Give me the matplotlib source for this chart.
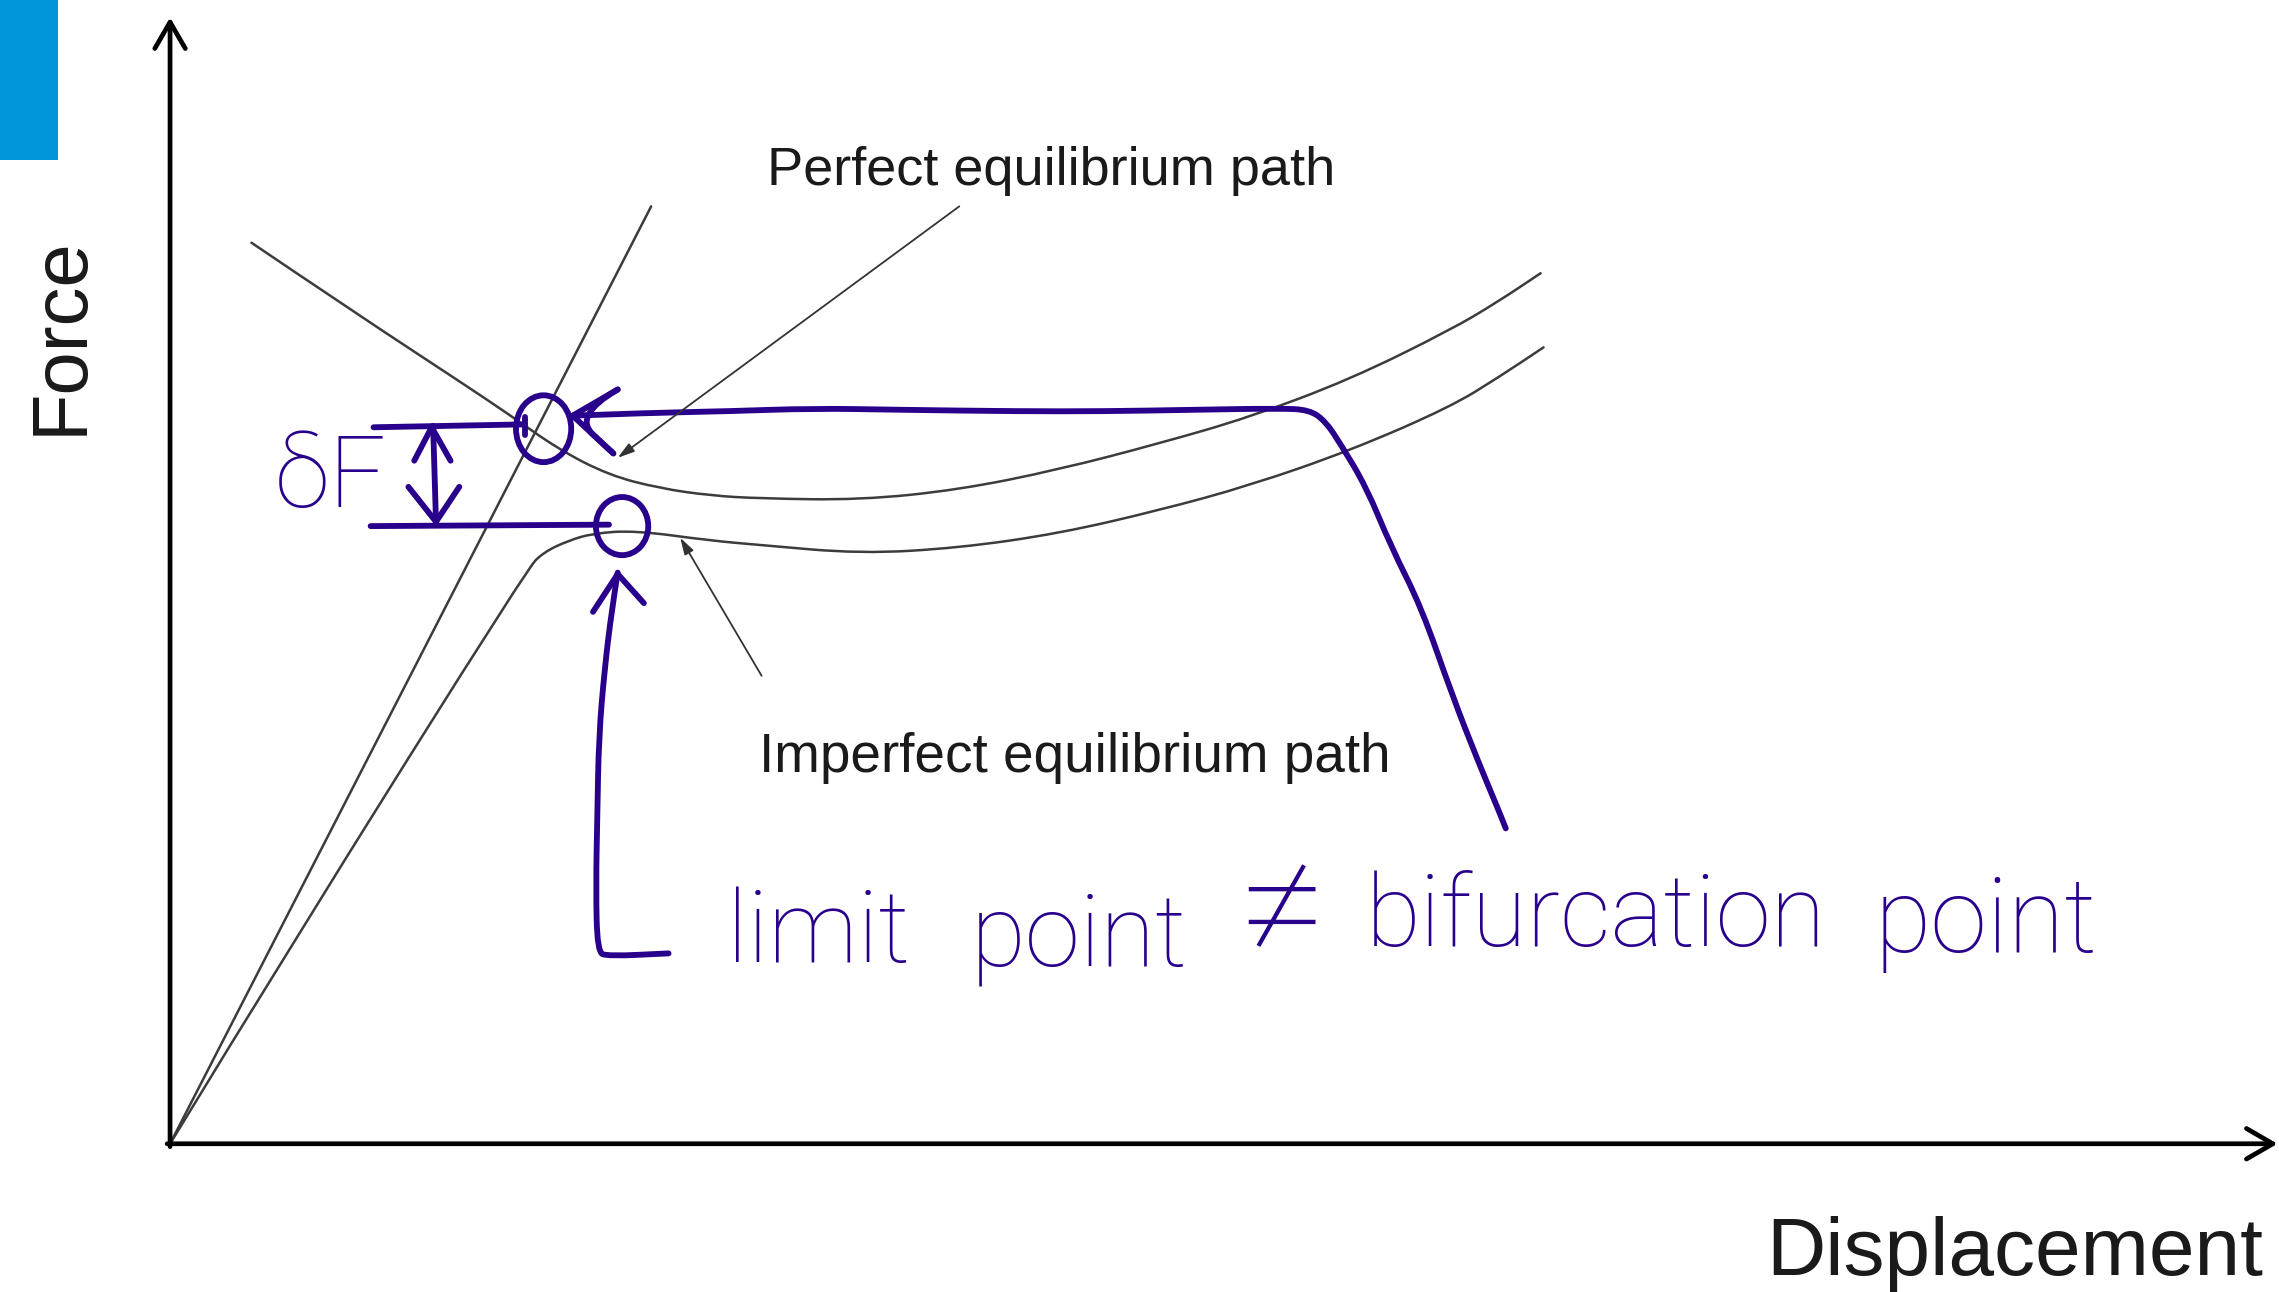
import matplotlib
matplotlib.use('Agg')
import matplotlib.pyplot as plt
from matplotlib import font_manager
from matplotlib.patches import Ellipse, Rectangle, PathPatch
from matplotlib.path import Path

# ---------------- data (drawing units: reference picture coordinates) ----------------
# perfect structure: linear pre-buckling branch
perfect_linear_x = [117, 448]
perfect_linear_y = [787, 142]
# perfect structure: post-buckling branch
perfect_post_x = [173, 244, 314, 350, 384, 419, 454, 489, 523, 592, 660, 729, 798, 860, 929, 998, 1030, 1060]
perfect_post_y = [167, 215, 261, 285, 309, 327, 336, 341, 343, 344, 337, 323, 305, 287, 261, 227, 208, 188]
# imperfect structure
imperfect_x = [117, 198, 363, 374, 391, 408, 437, 489, 523, 592, 660, 729, 798, 860, 929, 998, 1032, 1062]
imperfect_y = [787, 654, 391, 380, 372, 367, 365, 372, 375, 381, 377, 367, 351, 334, 310, 280, 259, 239]

# handwritten annotation strokes
bif_stroke_x = [394, 450, 500, 560, 620, 700, 760, 820, 880, 901, 912, 922, 940, 957, 978, 999, 1017, 1030, 1036]
bif_stroke_y = [286, 284, 283, 281, 282, 283, 283, 282, 281, 282, 290, 305, 335, 376, 418, 478, 524, 555, 570]
limit_stroke_x = [425, 421, 416, 412, 411, 410, 411, 418, 460]
limit_stroke_y = [394, 419, 460, 507, 560, 610, 655, 658, 656]
dF_upper_x = [257, 361]
dF_upper_y = [294, 292]
dF_lower_x = [255, 419]
dF_lower_y = [362, 361]
dF_arrow_x = [298, 300]
dF_arrow_y = [293, 360]

# texts
label_perfect = 'Perfect equilibrium path'
label_imperfect = 'Imperfect equilibrium path'
label_y = 'Force'
label_x = 'Displacement'
label_dF = 'δF'
hand_words = ['limit', 'point', '≠', 'bifurcation', 'point']

# ---------------- styling ----------------
names = {f.name for f in font_manager.fontManager.ttflist}
SANS = 'Liberation Sans' if 'Liberation Sans' in names else 'DejaVu Sans'
HAND = 'Roboto' if 'Roboto' in names else SANS
BLUE = '#28008C'
GREY = '#3c3c3c'
INK = '#1a1a1a'


def smooth(ax, xs, ys, **kw):
    verts = [(xs[0], ys[0])]
    codes = [Path.MOVETO]
    for i in range(1, len(xs) - 1):
        verts += [(xs[i], ys[i]), ((xs[i] + xs[i + 1]) / 2, (ys[i] + ys[i + 1]) / 2)]
        codes += [Path.CURVE3, Path.CURVE3]
    verts.append((xs[-1], ys[-1]))
    codes.append(Path.LINETO)
    ax.add_patch(PathPatch(Path(verts, codes), fill=False, **kw))


fig = plt.figure(figsize=(22.79, 12.92), dpi=100)
ax = fig.add_axes([0, 0, 1, 1])
ax.set_xlim(0, 1568)
ax.set_ylim(889, 0)
ax.axis('off')

# corner blue tab
ax.add_patch(Rectangle((0, 0), 40, 110, color='#0096D8', lw=0))

# axes with arrows
axis_arrow = dict(arrowstyle='->,head_length=0.95,head_width=0.55', lw=3.4, color='black',
                  shrinkA=0, shrinkB=0, mutation_scale=20)
ax.annotate('', xy=(117, 12), xytext=(117, 789), arrowprops=axis_arrow, annotation_clip=False)
ax.annotate('', xy=(1567, 787), xytext=(115, 787), arrowprops=axis_arrow, annotation_clip=False)

# equilibrium paths
kw = dict(edgecolor=GREY, lw=1.8, joinstyle='round', capstyle='round')
smooth(ax, perfect_linear_x, perfect_linear_y, **kw)
smooth(ax, perfect_post_x, perfect_post_y, **kw)
smooth(ax, imperfect_x, imperfect_y, **kw)

# pointers from labels
ptr = dict(arrowstyle='-|>,head_length=1.0,head_width=0.3', lw=1.3, color='#333333',
           shrinkA=0, shrinkB=0, mutation_scale=10)
ax.annotate('', xy=(425, 315), xytext=(660, 142), arrowprops=ptr)
ax.annotate('', xy=(468, 370), xytext=(524, 465), arrowprops=ptr)

# labels
ax.text(528, 127, label_perfect, family=SANS, fontsize=39, color=INK, ha='left', va='baseline')
ax.text(522, 531, label_imperfect, family=SANS, fontsize=39.5, color=INK, ha='left', va='baseline')
ax.text(42, 231, label_y, family=SANS, fontsize=56, color=INK, rotation=90, ha='center', va='center')
ax.text(1215, 877, label_x, family=SANS, fontsize=59, color=INK, ha='left', va='baseline')

# handwritten annotations
bkw = dict(edgecolor=BLUE, lw=4.2, joinstyle='round', capstyle='round')
smooth(ax, bif_stroke_x, bif_stroke_y, **bkw)
smooth(ax, [425, 394, 422], [268, 286, 312], **dict(bkw, joinstyle='miter'))
smooth(ax, limit_stroke_x, limit_stroke_y, **bkw)
smooth(ax, dF_upper_x, dF_upper_y, **bkw)
smooth(ax, dF_lower_x, dF_lower_y, **bkw)
smooth(ax, dF_arrow_x, dF_arrow_y, **bkw)
lkw = dict(color=BLUE, lw=4.2, solid_joinstyle='round', solid_capstyle='round')
ax.plot([425, 394, 422], [268, 286, 312], **lkw)
ax.plot([408, 425, 443], [421, 395, 415], **lkw)
ax.plot([285, 297, 310], [317, 294, 317], **lkw)
ax.plot([281, 300, 316], [335, 359, 335], **lkw)
ax.plot([361, 361], [287, 299], **lkw)
ax.add_patch(Ellipse((374, 295), 38, 46, fill=False, ec=BLUE, lw=4.2))
ax.add_patch(Ellipse((428, 362), 36, 40, fill=False, ec=BLUE, lw=4.2))

ax.text(189, 349, label_dF, family=[HAND, 'DejaVu Sans'], fontsize=72, fontweight='light', color=BLUE,
        ha='left', va='baseline')

word_pos = [(500, 662, 72), (668, 664, 72), (882, 660, 118), (940, 651, 72), (1290, 655, 74)]
for w, (x, y, fs) in zip(hand_words, word_pos):
    ha = 'center' if w == '≠' else 'left'
    ax.text(x, y, w, family=[HAND, 'DejaVu Sans'], fontsize=fs, fontweight='light', color=BLUE,
            ha=ha, va='baseline')

fig.savefig('out.png', dpi=100, facecolor='white')
